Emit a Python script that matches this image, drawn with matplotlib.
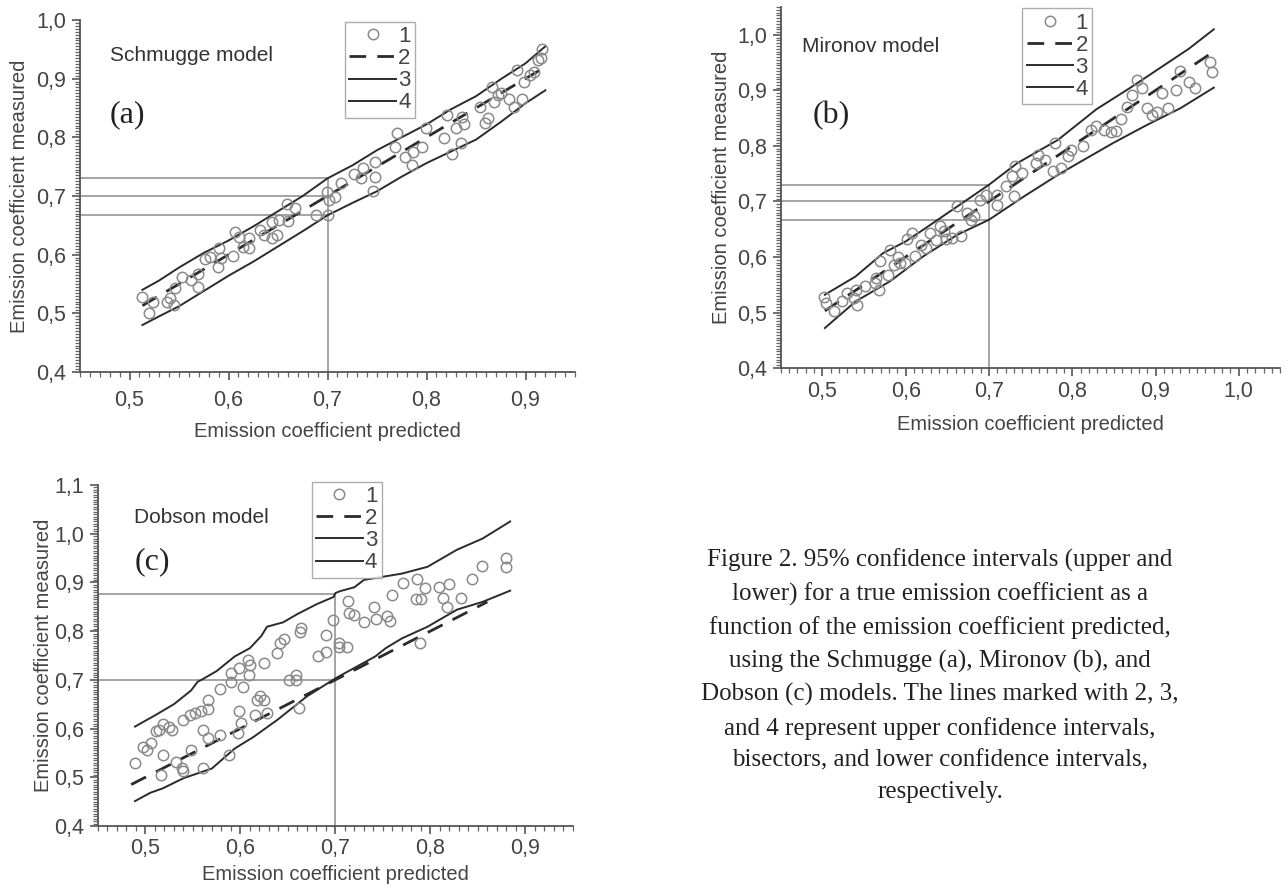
import matplotlib
matplotlib.use("Agg")
import matplotlib.pyplot as plt
from matplotlib.ticker import MultipleLocator, FuncFormatter

plt.rcParams['font.family'] = ['Liberation Sans', 'DejaVu Sans']

# --- (a) Schmugge model ---
a_pred = [0.513, 0.520, 0.524, 0.538, 0.541, 0.545, 0.546, 0.553, 0.562, 0.569, 0.569, 0.576,
          0.581, 0.589, 0.590, 0.592, 0.604, 0.607, 0.611, 0.615, 0.621, 0.621, 0.632, 0.636,
          0.644, 0.644, 0.649, 0.651, 0.659, 0.660, 0.667, 0.688, 0.699, 0.700, 0.701, 0.708,
          0.714, 0.727, 0.734, 0.736, 0.746, 0.748, 0.748, 0.768, 0.770, 0.778, 0.785, 0.786,
          0.795, 0.799, 0.818, 0.821, 0.826, 0.830, 0.836, 0.838, 0.835, 0.854, 0.859, 0.862,
          0.866, 0.868, 0.872, 0.875, 0.883, 0.888, 0.891, 0.896, 0.898, 0.905, 0.909, 0.913,
          0.917, 0.916]
a_meas = [0.528, 0.501, 0.520, 0.520, 0.526, 0.514, 0.543, 0.561, 0.557, 0.545, 0.567, 0.592,
          0.596, 0.579, 0.611, 0.594, 0.598, 0.639, 0.630, 0.613, 0.629, 0.612, 0.642, 0.633,
          0.656, 0.628, 0.633, 0.659, 0.687, 0.658, 0.679, 0.667, 0.707, 0.667, 0.693, 0.698,
          0.722, 0.738, 0.730, 0.747, 0.708, 0.733, 0.758, 0.784, 0.807, 0.767, 0.753, 0.775,
          0.784, 0.816, 0.799, 0.838, 0.772, 0.815, 0.835, 0.822, 0.790, 0.851, 0.824, 0.832,
          0.885, 0.860, 0.872, 0.876, 0.866, 0.851, 0.914, 0.865, 0.895, 0.906, 0.912, 0.932,
          0.950, 0.935]
a_up_x = [0.513, 0.530, 0.550, 0.575, 0.600, 0.625, 0.650, 0.675, 0.700, 0.725, 0.750, 0.775,
          0.800, 0.825, 0.850, 0.875, 0.900, 0.920]
a_up_y = [0.540, 0.556, 0.578, 0.603, 0.624, 0.648, 0.674, 0.700, 0.730, 0.752, 0.778, 0.800,
          0.822, 0.848, 0.870, 0.899, 0.926, 0.955]
a_lo_x = [0.513, 0.530, 0.550, 0.575, 0.600, 0.625, 0.650, 0.675, 0.700, 0.725, 0.750, 0.775,
          0.800, 0.825, 0.850, 0.875, 0.900, 0.920]
a_lo_y = [0.480, 0.495, 0.512, 0.538, 0.564, 0.588, 0.614, 0.640, 0.667, 0.688, 0.708, 0.733,
          0.756, 0.776, 0.796, 0.826, 0.858, 0.880]
a_bis = [0.513, 0.920]
a_ref_y = [0.730, 0.700, 0.667]

# --- (b) Mironov model ---
b_pred = [0.502, 0.504, 0.514, 0.524, 0.530, 0.538, 0.542, 0.540, 0.551, 0.563, 0.565, 0.568,
          0.569, 0.579, 0.581, 0.586, 0.591, 0.593, 0.599, 0.602, 0.608, 0.611, 0.619, 0.625,
          0.629, 0.637, 0.641, 0.646, 0.649, 0.656, 0.662, 0.666, 0.674, 0.678, 0.682, 0.689,
          0.696, 0.710, 0.710, 0.720, 0.728, 0.730, 0.731, 0.740, 0.757, 0.759, 0.767, 0.777,
          0.779, 0.787, 0.795, 0.799, 0.813, 0.823, 0.829, 0.838, 0.846, 0.852, 0.858, 0.866,
          0.872, 0.878, 0.884, 0.890, 0.896, 0.902, 0.908, 0.915, 0.925, 0.930, 0.940, 0.948,
          0.965, 0.968]
b_meas = [0.528, 0.518, 0.502, 0.520, 0.535, 0.526, 0.514, 0.541, 0.547, 0.553, 0.562, 0.541,
          0.592, 0.568, 0.613, 0.586, 0.600, 0.589, 0.589, 0.632, 0.643, 0.601, 0.622, 0.616,
          0.643, 0.630, 0.655, 0.647, 0.632, 0.634, 0.691, 0.637, 0.679, 0.667, 0.673, 0.703,
          0.712, 0.712, 0.694, 0.727, 0.745, 0.709, 0.763, 0.751, 0.769, 0.784, 0.775, 0.754,
          0.805, 0.760, 0.781, 0.793, 0.799, 0.829, 0.835, 0.828, 0.825, 0.826, 0.848, 0.870,
          0.892, 0.918, 0.905, 0.868, 0.855, 0.862, 0.895, 0.868, 0.900, 0.935, 0.915, 0.905,
          0.952, 0.934]
b_up_x = [0.503, 0.540, 0.573, 0.600, 0.621, 0.662, 0.700, 0.734, 0.783, 0.829, 0.870, 0.910,
          0.940, 0.970]
b_up_y = [0.532, 0.565, 0.607, 0.628, 0.649, 0.691, 0.730, 0.769, 0.811, 0.866, 0.905, 0.945,
          0.975, 1.010]
b_lo_x = [0.503, 0.540, 0.581, 0.621, 0.662, 0.700, 0.742, 0.783, 0.807, 0.850, 0.890, 0.930,
          0.970]
b_lo_y = [0.472, 0.520, 0.556, 0.601, 0.640, 0.667, 0.709, 0.748, 0.769, 0.806, 0.838, 0.868,
          0.905]
b_bis = [0.503, 0.970]
b_ref_y = [0.730, 0.700, 0.667]

# --- (c) Dobson model ---
c_pred = [0.489, 0.497, 0.502, 0.506, 0.511, 0.514, 0.519, 0.518, 0.516, 0.525, 0.528, 0.532,
          0.539, 0.540, 0.540, 0.548, 0.547, 0.552, 0.559, 0.561, 0.561, 0.566, 0.566, 0.566,
          0.579, 0.579, 0.588, 0.590, 0.590, 0.598, 0.599, 0.597, 0.603, 0.601, 0.608, 0.609,
          0.610, 0.615, 0.617, 0.621, 0.625, 0.625, 0.628, 0.638, 0.642, 0.646, 0.651, 0.658,
          0.658, 0.662, 0.663, 0.664, 0.682, 0.690, 0.690, 0.698, 0.704, 0.704, 0.712, 0.713,
          0.714, 0.720, 0.730, 0.741, 0.743, 0.754, 0.757, 0.760, 0.771, 0.785, 0.786, 0.790,
          0.789, 0.794, 0.809, 0.813, 0.818, 0.820, 0.832, 0.844, 0.854, 0.880, 0.880]
c_meas = [0.529, 0.562, 0.556, 0.570, 0.594, 0.597, 0.609, 0.546, 0.505, 0.603, 0.596, 0.532,
          0.518, 0.512, 0.618, 0.556, 0.628, 0.631, 0.637, 0.597, 0.518, 0.659, 0.640, 0.580,
          0.587, 0.681, 0.546, 0.696, 0.713, 0.724, 0.635, 0.590, 0.686, 0.611, 0.741, 0.710,
          0.731, 0.628, 0.659, 0.666, 0.734, 0.659, 0.631, 0.755, 0.775, 0.783, 0.700, 0.700,
          0.710, 0.642, 0.799, 0.806, 0.748, 0.758, 0.792, 0.823, 0.775, 0.768, 0.768, 0.861,
          0.837, 0.833, 0.818, 0.850, 0.824, 0.830, 0.820, 0.874, 0.898, 0.865, 0.906, 0.865,
          0.775, 0.888, 0.891, 0.867, 0.850, 0.897, 0.868, 0.906, 0.934, 0.950, 0.931]
c_up_x = [0.489, 0.510, 0.530, 0.548, 0.555, 0.560, 0.575, 0.594, 0.610, 0.622, 0.628, 0.645,
          0.660, 0.680, 0.698, 0.700, 0.705, 0.720, 0.730, 0.742, 0.770, 0.797, 0.828, 0.855,
          0.884]
c_up_y = [0.604, 0.627, 0.650, 0.678, 0.696, 0.701, 0.718, 0.748, 0.765, 0.790, 0.809, 0.818,
          0.835, 0.855, 0.870, 0.878, 0.882, 0.890, 0.905, 0.909, 0.918, 0.932, 0.967, 0.990,
          1.025]
c_lo_x = [0.489, 0.505, 0.518, 0.540, 0.570, 0.594, 0.614, 0.639, 0.670, 0.700, 0.742, 0.753,
          0.770, 0.797, 0.828, 0.855, 0.884]
c_lo_y = [0.451, 0.468, 0.477, 0.498, 0.518, 0.559, 0.583, 0.618, 0.666, 0.703, 0.748, 0.765,
          0.785, 0.809, 0.844, 0.860, 0.883]
c_bis = [0.485, 0.860]
c_ref_y = [0.877, 0.700]

GREY_PT = '#8a8a8a'
GREY_REF = '#8c8c8c'
INK = '#2b2b2b'

fig = plt.figure(figsize=(12.87, 8.89), dpi=100)


def panel(rect, pred, meas, up_x, up_y, lo_x, lo_y, bis, ref_y, ylim, xlim, yticks, xticks,
          model, letter, model_xy, letter_xy, leg_anchor, xpad, xlabelpad, ylabelpad):
    ax = fig.add_axes(rect)
    # reference lines at predicted 0.7
    for y in ref_y:
        ax.plot([xlim[0], 0.7], [y, y], color=GREY_REF, lw=1.1, zorder=1)
    ax.plot([0.7, 0.7], [ylim[0], max(ref_y)], color=GREY_REF, lw=1.1, zorder=1)

    ax.plot(pred, meas, 'o', ms=7.5, mfc='none', mec=GREY_PT, mew=1.1, label='1', zorder=3)
    ax.plot(bis, bis, color=INK, lw=2, dashes=(6, 4), label='2', zorder=2)
    ax.plot(up_x, up_y, color=INK, lw=1.4, label='3', zorder=2)
    ax.plot(lo_x, lo_y, color=INK, lw=1.4, label='4', zorder=2)

    ax.set_xlim(*xlim)
    ax.set_ylim(*ylim)
    ax.set_xticks(xticks)
    ax.set_yticks(yticks)
    ax.xaxis.set_minor_locator(MultipleLocator(0.01))
    ax.yaxis.set_minor_locator(MultipleLocator(0.005))
    fmt = FuncFormatter(lambda v, p: f'{v:.1f}'.replace('.', ','))
    ax.xaxis.set_major_formatter(fmt)
    ax.yaxis.set_major_formatter(fmt)
    for s in ['top', 'right']:
        ax.spines[s].set_visible(False)
    for s in ['left', 'bottom']:
        ax.spines[s].set_color('#555555')
        ax.spines[s].set_linewidth(1.3)
    ax.tick_params(which='major', direction='out', length=6, width=1.2, colors='#555555',
                   labelcolor='#444444', labelsize=15.5)
    ax.tick_params(axis='x', which='major', pad=xpad)
    ax.tick_params(axis='y', which='major', pad=4)
    ax.tick_params(which='minor', direction='out', length=3.5, width=0.9, colors='#666666')
    ax.set_xlabel('Emission coefficient predicted', fontsize=14.5, color='#444444',
                  labelpad=xlabelpad)
    ax.set_ylabel('Emission coefficient measured', fontsize=14.5, color='#444444',
                  labelpad=ylabelpad)
    ax.patch.set_alpha(0)

    ax.text(model_xy[0], model_xy[1], model, transform=ax.transAxes, fontsize=15,
            color='#333333', va='center', ha='left')
    ax.text(letter_xy[0], letter_xy[1], letter, transform=ax.transAxes, fontsize=23,
            family='Liberation Serif', color='#222222', va='center', ha='left')

    leg = ax.legend(loc='upper left', bbox_to_anchor=leg_anchor, fontsize=16, frameon=True,
                    fancybox=False, edgecolor='#999999', handlelength=2.1, handletextpad=0.1,
                    borderpad=0.2, labelspacing=0.05, borderaxespad=0, markerfirst=True)
    leg.get_frame().set_linewidth(1.0)
    for t in leg.get_texts():
        t.set_color('#444444')
    return ax


panel([0.0622, 0.5816, 0.3846, 0.396], a_pred, a_meas, a_up_x, a_up_y, a_lo_x, a_lo_y,
      a_bis, a_ref_y, (0.4, 1.0), (0.45, 0.95), [0.4, 0.5, 0.6, 0.7, 0.8, 0.9, 1.0],
      [0.5, 0.6, 0.7, 0.8, 0.9], 'Schmugge model', '(a)', (0.06, 0.9), (0.06, 0.73),
      (0.535, 0.995), 7, 8, 5)

panel([0.6066, 0.586, 0.3883, 0.406], b_pred, b_meas, b_up_x, b_up_y, b_lo_x, b_lo_y,
      b_bis, b_ref_y, (0.4, 1.05), (0.45, 1.05), [0.4, 0.5, 0.6, 0.7, 0.8, 0.9, 1.0],
      [0.5, 0.6, 0.7, 0.8, 0.9, 1.0], 'Mironov model', '(b)', (0.043, 0.89), (0.063, 0.70),
      (0.483, 0.997), 3, 10, 4)

panel([0.0761, 0.0709, 0.369, 0.3836], c_pred, c_meas, c_up_x, c_up_y, c_lo_x, c_lo_y,
      c_bis, c_ref_y, (0.4, 1.1), (0.45, 0.95), [0.4, 0.5, 0.6, 0.7, 0.8, 0.9, 1.0, 1.1],
      [0.5, 0.6, 0.7, 0.8, 0.9], 'Dobson model', '(c)', (0.075, 0.906), (0.078, 0.774),
      (0.45, 1.01), 3, 4, 1)

caption = ("Figure 2. 95% confidence intervals (upper and\n"
           "lower) for a true emission coefficient as a\n"
           "function of the emission coefficient predicted,\n"
           "using the Schmugge (a), Mironov (b), and\n"
           "Dobson (c) models. The lines marked with 2, 3,\n"
           "and 4 represent upper confidence intervals,\n"
           "bisectors, and lower confidence intervals,\n"
           "respectively.")
fig.text(940 / 1287, 1 - 676 / 889, caption, ha='center', va='center', multialignment='center',
         fontsize=18, family='Liberation Serif', color='#222222', linespacing=1.58)

fig.savefig('out.png', dpi=100)
